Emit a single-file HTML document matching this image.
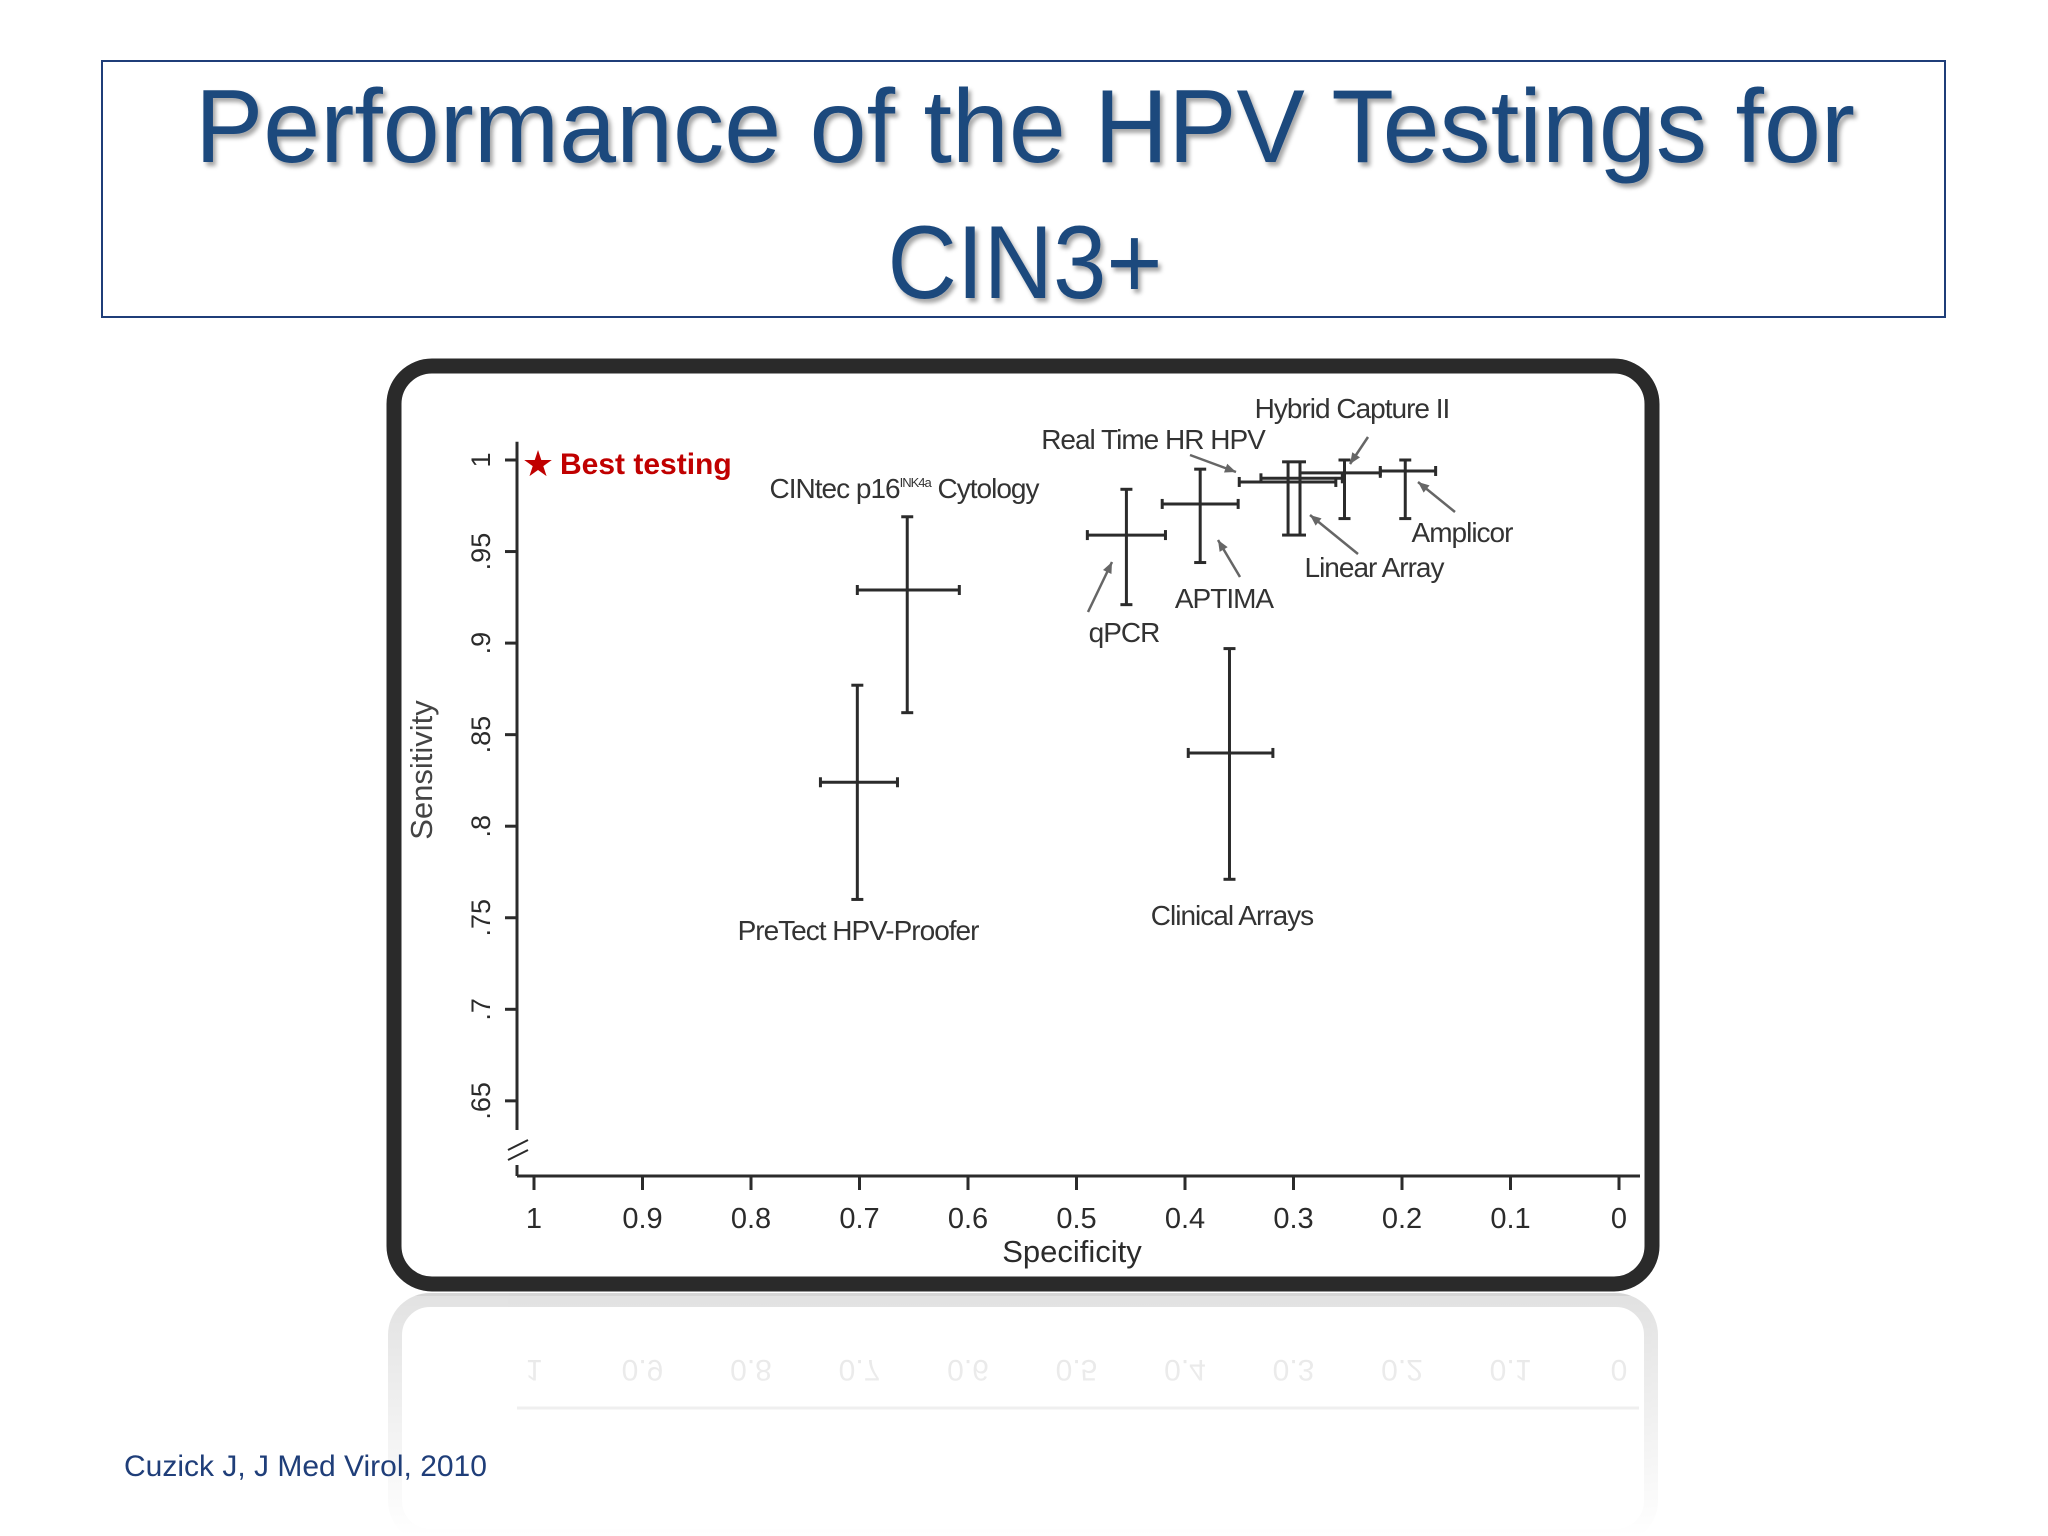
<!DOCTYPE html>
<html><head><meta charset="utf-8"><style>
html,body{margin:0;padding:0;background:#fff;}
svg{display:block;}
text{font-family:"Liberation Sans",sans-serif;}
</style></head><body>
<svg id="s" width="2048" height="1536" viewBox="0 0 2048 1536">
<defs>
<filter id="sh" x="-5%" y="-5%" width="110%" height="120%"><feDropShadow dx="3" dy="4" stdDeviation="2" flood-color="#000" flood-opacity="0.35"/></filter>
<linearGradient id="refl" x1="0" y1="0" x2="0" y2="1"><stop offset="0" stop-color="#fff" stop-opacity="0.3"/><stop offset="1" stop-color="#fff" stop-opacity="1"/></linearGradient>
</defs>
<rect x="102" y="61" width="1843" height="256" fill="#fff" stroke="#1f3e79" stroke-width="2"/>
<g filter="url(#sh)" fill="#1f497d" font-size="104" text-anchor="middle">
<text x="1025" y="162" textLength="1660" lengthAdjust="spacingAndGlyphs">Performance of the HPV Testings for</text>
<text x="1025" y="298" textLength="275" lengthAdjust="spacingAndGlyphs">CIN3+</text>
</g>
<g opacity="0.2">
<rect x="395" y="1300" width="1256" height="236" rx="35" fill="none" stroke="#333" stroke-width="14"/>
<line x1="517" y1="1408" x2="1639" y2="1408" stroke="#333" stroke-width="3"/>
<g id="reflTicks" font-size="30" fill="#333" text-anchor="middle"></g>
</g>
<rect x="380" y="1296" width="1290" height="240" fill="url(#refl)"/>
<rect x="394" y="366" width="1258" height="918" rx="38" fill="#fff" stroke="#2a2a2a" stroke-width="15"/>
<g id="chart"></g>
<text x="124" y="1476" font-size="30" fill="#1f3e79">Cuzick J, J Med Virol, 2010</text>
</svg>
<script>
const names=["CINtec p16 Cytology","PreTect HPV-Proofer","qPCR","APTIMA","Clinical Arrays","Real Time HR HPV","Linear Array","Hybrid Capture II","Amplicor"];
const spec=[0.656,0.702,0.454,0.386,0.359,0.305,0.294,0.253,0.197];
const specLo=[0.608,0.665,0.418,0.351,0.319,0.261,0.255,0.220,0.169];
const specHi=[0.702,0.736,0.490,0.421,0.397,0.350,0.330,0.294,0.220];
const sens=[0.929,0.824,0.959,0.976,0.840,0.988,0.990,0.993,0.994];
const sensLo=[0.862,0.760,0.921,0.944,0.771,0.959,0.959,0.968,0.968];
const sensHi=[0.969,0.877,0.984,0.995,0.897,0.999,0.999,1.0,1.0];
const xTicks=[1,0.9,0.8,0.7,0.6,0.5,0.4,0.3,0.2,0.1,0];
const xTickLabels=["1","0.9","0.8","0.7","0.6","0.5","0.4","0.3","0.2","0.1","0"];
const yTicks=[1,0.95,0.9,0.85,0.8,0.75,0.7,0.65];
const yTickLabels=["1",".95",".9",".85",".8",".75",".7",".65"];

const X=s=>534+(1-s)*1085;
const Y=v=>460+(1-v)*1831;
const NS="http://www.w3.org/2000/svg";
const g=document.getElementById('chart');
function mk(t,a,p){const e=document.createElementNS(NS,t);for(const k in a)e.setAttribute(k,a[k]);(p||g).appendChild(e);return e;}
const C="#2b2b2b";
let e=mk('line',{x1:517,y1:Y(1.01),x2:517,y2:1130,stroke:C,'stroke-width':3});


mk('path',{d:"M508 1150 L528 1140 M508 1160 L528 1150",stroke:C,'stroke-width':2,fill:'none'});
mk('line',{x1:517,y1:1165,x2:517,y2:1176,stroke:C,'stroke-width':3});
e=mk('line',{x1:517,y1:1176,x2:1640,y2:1176,stroke:C,'stroke-width':3});


xTicks.forEach((t,i)=>{
 mk('line',{x1:X(t),y1:1176,x2:X(t),y2:1190,stroke:C,'stroke-width':3});
 const tx=mk('text',{x:X(t),y:1228,'font-size':29,fill:C,'text-anchor':'middle'});
 tx.textContent=xTickLabels[i];
 
 
 const r=mk('text',{x:X(t),y:1382,'text-anchor':'middle',transform:`scale(1,-1) translate(0,${-2*1382+22})`},document.getElementById('reflTicks'));
 r.textContent=xTickLabels[i];
});
yTicks.forEach((t,i)=>{
 mk('line',{x1:505,y1:Y(t),x2:517,y2:Y(t),stroke:C,'stroke-width':3});
 const tx=mk('text',{x:0,y:0,'font-size':27,fill:C,'text-anchor':'middle',transform:`translate(490,${Y(t)}) rotate(-90)`});
 tx.textContent=yTickLabels[i];
 
 
});
e=mk('text',{x:0,y:0,'font-size':31,fill:'#444','text-anchor':'middle',transform:'translate(432,770) rotate(-90)'});
e.textContent='Sensitivity';


e=mk('text',{x:1072,y:1262,'font-size':31,fill:C,'text-anchor':'middle'});
e.textContent='Specificity';


names.forEach((n,i)=>{
 const grp=mk('g',{stroke:C,'stroke-width':3});
 
 
 const cx=X(spec[i]),cy=Y(sens[i]);
 mk('line',{x1:X(specHi[i]),y1:cy,x2:X(specLo[i]),y2:cy},grp);
 mk('line',{x1:X(specHi[i]),y1:cy-5,x2:X(specHi[i]),y2:cy+5},grp);
 mk('line',{x1:X(specLo[i]),y1:cy-5,x2:X(specLo[i]),y2:cy+5},grp);
 mk('line',{x1:cx,y1:Y(sensHi[i]),x2:cx,y2:Y(sensLo[i])},grp);
 mk('line',{x1:cx-6,y1:Y(sensHi[i]),x2:cx+6,y2:Y(sensHi[i])},grp);
 mk('line',{x1:cx-6,y1:Y(sensLo[i]),x2:cx+6,y2:Y(sensLo[i])},grp);
});
const labs=[["Hybrid Capture II",1352,418,'middle'],["Real Time HR HPV",1153,449,'middle'],["Amplicor",1462,542,'middle'],["Linear Array",1374,577,'middle'],["APTIMA",1224,608,'middle'],["qPCR",1124,642,'middle'],["PreTect HPV-Proofer",858,940,'middle'],["Clinical Arrays",1232,925,'middle']];
labs.forEach(l=>{const t=mk('text',{x:l[1],y:l[2],'font-size':28,fill:'#333','text-anchor':l[3],'letter-spacing':'-1'});t.textContent=l[0];
 
 });
e=mk('text',{x:904,y:498,'font-size':28,fill:'#333','text-anchor':'middle','letter-spacing':'-1'});
e.innerHTML='CINtec p16<tspan font-size="13" dy="-11">INK4a</tspan><tspan dy="11"> Cytology</tspan>';


const arr=[[1368,437,1350,464],[1190,455,1236,472],[1455,512,1418,482],[1358,554,1310,515],[1240,577,1218,540],[1088,612,1112,562]];
arr.forEach(a=>{mk('line',{x1:a[0],y1:a[1],x2:a[2],y2:a[3],stroke:'#666','stroke-width':2.5});
 const ang=Math.atan2(a[3]-a[1],a[2]-a[0]);const L=12;
 mk('path',{d:`M${a[2]} ${a[3]} L${a[2]-L*Math.cos(ang-0.4)} ${a[3]-L*Math.sin(ang-0.4)} L${a[2]-L*Math.cos(ang+0.4)} ${a[3]-L*Math.sin(ang+0.4)}Z`,fill:'#666'});});
e=mk('text',{x:538,y:476,'font-size':36,fill:'#c00000','text-anchor':'middle'});
e.textContent='★';


e=mk('text',{x:560,y:474,'font-size':30,fill:'#c00000','font-weight':'bold'});
e.textContent='Best testing';


</script>
</body></html>
